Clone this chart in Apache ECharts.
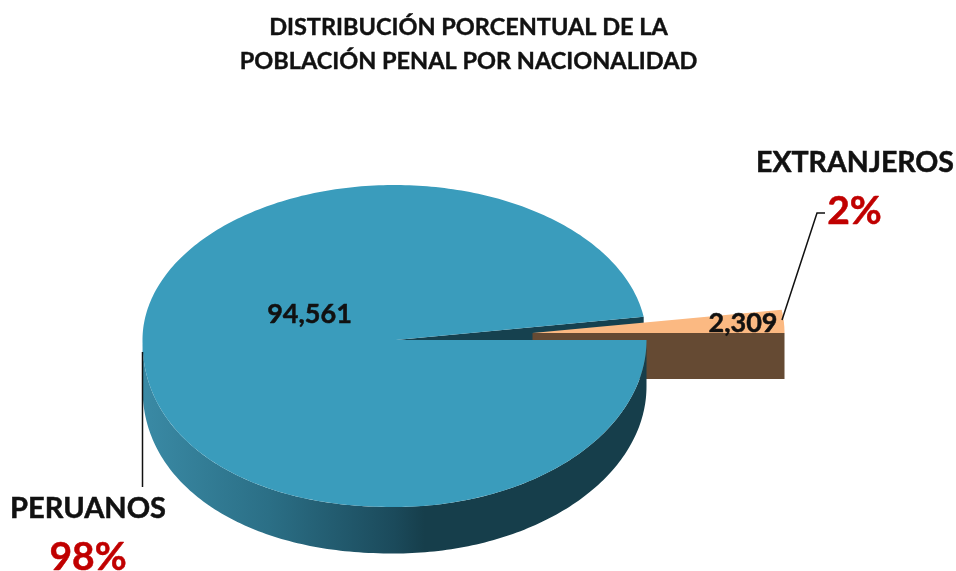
<!DOCTYPE html>
<html>
<head>
<meta charset="utf-8">
<style>
  html, body { margin: 0; padding: 0; background: #fff; }
  #chart { width: 956px; height: 571px; }
</style>
<script src="https://cdn.jsdelivr.net/npm/echarts@6/dist/echarts.min.js"></script>
</head>
<body>
<div id="chart"></div>
<script>
var titleText = 'DISTRIBUCIÓN PORCENTUAL DE LA\nPOBLACIÓN PENAL POR NACIONALIDAD';
var categories = ['PERUANOS', 'EXTRANJEROS'];
var population = [94561, 2309];
var shares = ['98%', '2%'];

// tilted disc, the upper half is a bit flatter than the lower one
var disc = { cx: 394.5, cy: 340, rx: 252, ryUp: 155, ryDown: 167, depth: 46.5, apexX: 396 };
var explode = { x: 138, y: -7, depth: 46 };

var total = population[0] + population[1];
var gapDeg = 360 * population[1] / total;

function rimPoint(deg, dx, dy, drop) {
    var a = deg * Math.PI / 180;
    var c = Math.cos(a);
    var s = Math.sin(a);
    // the lower left quarter of the reference is a little squarer than an ellipse
    var k = (c < 0 && s < 0) ? 2 / 2.15 : 1;
    var u = Math.sign(c) * Math.pow(Math.abs(c), k);
    var v = Math.sign(s) * Math.pow(Math.abs(s), k);
    return [
        disc.cx + disc.rx * u + (dx || 0),
        disc.cy - v * (v > 0 ? disc.ryUp : disc.ryDown) + (dy || 0) + (drop || 0)
    ];
}

function arc(from, to, dx, dy, drop) {
    var pts = [];
    for (var d = from; d <= to; d += 1) {
        pts.push(rimPoint(d, dx, dy, drop));
    }
    pts.push(rimPoint(to, dx, dy, drop));
    return pts;
}

function renderInnerWall() {
    return {
        type: 'polygon',
        shape: { points: [[disc.apexX, disc.cy], rimPoint(gapDeg), [rimPoint(gapDeg)[0], disc.cy]] },
        style: { fill: '#16414f' }
    };
}

function renderForeignSlice() {
    var apex = [disc.cx + explode.x, disc.cy + explode.y];
    var right = rimPoint(0, explode.x, explode.y);
    return {
        type: 'group',
        children: [{
            type: 'polygon',
            shape: { points: [apex, right, [right[0], right[1] + explode.depth], [apex[0], apex[1] + explode.depth]] },
            style: { fill: '#654a33' }
        }, {
            type: 'polygon',
            shape: { points: [apex].concat(arc(0, gapDeg, explode.x, explode.y)) },
            style: { fill: '#fbb982' }
        }]
    };
}

function renderMainSlice() {
    var lower = arc(180, 360);
    var lowerDrop = arc(180, 360, 0, 0, disc.depth).reverse();
    return {
        type: 'group',
        children: [{
            type: 'polygon',
            shape: { points: lower.concat(lowerDrop) },
            style: {
                fill: new echarts.graphic.LinearGradient(0, 0, 1, 0, [
                    { offset: 0, color: '#3a8aa5' },
                    { offset: 0.25, color: '#2b6f86' },
                    { offset: 0.5, color: '#1b4a5b' },
                    { offset: 0.56, color: '#163e4b' },
                    { offset: 1, color: '#163e4b' }
                ])
            }
        }, {
            type: 'polygon',
            shape: { points: [[disc.apexX, disc.cy]].concat(arc(gapDeg, 360)) },
            style: { fill: '#3a9cbc' }
        }]
    };
}

function label(text, x, y, size, color) {
    return {
        type: 'text',
        style: {
            x: x, y: y, text: text, fill: color,
            stroke: color, lineWidth: 0.5,
            font: 'bold ' + size + 'px Lato',
            align: 'center', verticalAlign: 'middle'
        }
    };
}

function renderLabels() {
    return {
        type: 'group',
        children: [
            { type: 'polyline', shape: { points: [[142.5, 352], [142.5, 487]] }, style: { stroke: '#111', lineWidth: 1.5, fill: null } },
            { type: 'polyline', shape: { points: [[782, 320], [817, 213], [825, 213]] }, style: { stroke: '#111', lineWidth: 1.5, fill: null } },
            label(categories[0], 88, 509, 29, '#111'),
            label(shares[0], 88, 557, 39, '#c00000'),
            label(categories[1], 855, 163, 28.5, '#111'),
            label(shares[1], 854.5, 211, 39, '#c00000'),
            label(population[0].toLocaleString('en-US'), 309.5, 314, 27, '#111'),
            label(population[1].toLocaleString('en-US'), 743, 323, 27, '#111')
        ]
    };
}

function layer(render, z) {
    return { type: 'custom', coordinateSystem: 'none', silent: true, z: z, data: [0], renderItem: render };
}

var chart = echarts.init(document.getElementById('chart'), null, { renderer: 'canvas' });
chart.setOption({
    animation: false,
    backgroundColor: '#fff',
    title: {
        text: titleText,
        left: 463.5,
        top: 5,
        textAlign: 'center',
        textStyle: {
            fontFamily: 'Lato', fontWeight: 'bold', fontSize: 23.5, lineHeight: 34, color: '#111',
            textBorderColor: '#111', textBorderWidth: 0.4
        }
    },
    series: [
        layer(renderInnerWall, 1),
        layer(renderForeignSlice, 2),
        layer(renderMainSlice, 3),
        layer(renderLabels, 4)
    ]
});
</script>
</body>
</html>
